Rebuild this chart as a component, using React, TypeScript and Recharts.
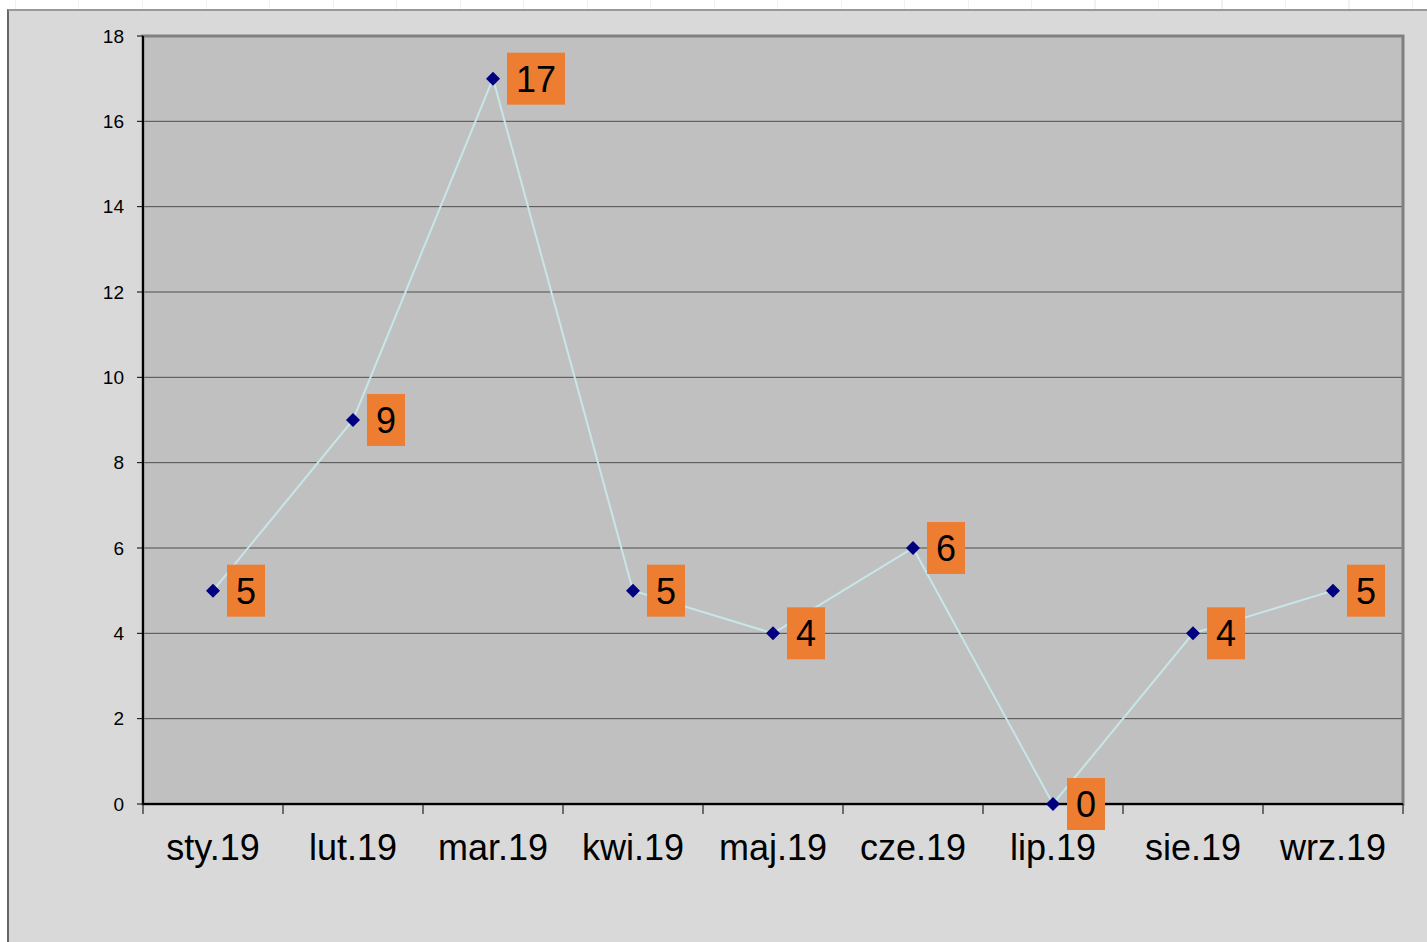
import React from 'react';
import { LineChart, Line, XAxis, YAxis, CartesianGrid, ReferenceArea, LabelList } from 'recharts';

const months = ['sty.19', 'lut.19', 'mar.19', 'kwi.19', 'maj.19', 'cze.19', 'lip.19', 'sie.19', 'wrz.19'];
const values = [5, 9, 17, 5, 4, 6, 0, 4, 5];
const yTicks = [0, 2, 4, 6, 8, 10, 12, 14, 16, 18];

const data = months.map((m, i) => ({ idx: i, month: m, value: values[i] }));

// ticks at the band centres (labels) and at band edges (tick marks)
const xTicks: number[] = [];
for (let i = 0; i <= months.length; i++) {
  xTicks.push(i - 0.5);
  if (i < months.length) xTicks.push(i);
}

const FONT = '"Liberation Sans", Arial, sans-serif';

const MonthTick = (props: any) => {
  const { x, y, payload } = props;
  const v = payload.value;
  if (Number.isInteger(v)) {
    return (
      <text x={x} y={y + 56} textAnchor="middle" fontSize={36} fontFamily={FONT} fill="#000">
        {months[v]}
      </text>
    );
  }
  return <line x1={x} x2={x} y1={y} y2={y + 10} stroke="#000" strokeWidth={1} />;
};

const Diamond = (props: any) => {
  const { cx, cy } = props;
  if (cx == null || cy == null) return null;
  return <polygon points={`${cx},${cy - 7} ${cx + 7},${cy} ${cx},${cy + 7} ${cx - 7},${cy}`} fill="#000080" />;
};

const ValueLabel = (props: any) => {
  const { x, y, value } = props;
  const txt = String(value);
  const w = txt.length * 20 + 18;
  return (
    <g>
      <rect x={x + 14} y={y - 26} width={w} height={52} fill="#ed7d31" />
      <text x={x + 14 + w / 2} y={y + 13} textAnchor="middle" fontSize={36} fontFamily={FONT} fill="#000">
        {txt}
      </text>
    </g>
  );
};

export default function App() {
  return (
    <>
      <div
        style={{
          position: 'fixed', left: 0, top: 0, width: 1427, height: 9, background: '#fff',
          backgroundImage:
            'repeating-linear-gradient(90deg, transparent 0 15px, #eef2f7 15px 16px, transparent 16px 63.5px)',
        }}
      />
      <div
        style={{
          position: 'fixed', left: 7, top: 9, width: 1420, height: 933, background: '#d9d9d9',
          borderTop: '2px solid #999', borderLeft: '2px solid #666', boxSizing: 'border-box',
        }}
      >
        <LineChart
          width={1418}
          height={931}
          data={data}
          margin={{ top: 25, right: 24, bottom: 76, left: 72 }}
        >
          <CartesianGrid horizontal vertical={false} fill="#c0c0c0" stroke="#4d4d4d" />
          <ReferenceArea y1={0} y2={18} fill="none" stroke="#808080" strokeWidth={3} />
          <XAxis
            dataKey="idx"
            type="number"
            domain={[-0.5, months.length - 0.5]}
            ticks={xTicks}
            interval={0}
            tick={<MonthTick />}
            tickLine={false}
            tickSize={0}
            tickMargin={0}
            axisLine={{ stroke: '#000', strokeWidth: 2 }}
            height={62}
          />
          <YAxis
            domain={[0, 18]}
            ticks={yTicks}
            interval={0}
            width={62}
            tickSize={6}
            tickMargin={13}
            tick={{ fontSize: 19, fontFamily: FONT, fill: '#000' }}
            tickLine={{ stroke: '#000' }}
            axisLine={{ stroke: '#000', strokeWidth: 2 }}
          />
          <Line
            type="linear"
            dataKey="value"
            stroke="#c6e6e8"
            strokeWidth={2}
            dot={<Diamond />}
            activeDot={false}
            isAnimationActive={false}
          >
            <LabelList dataKey="value" content={<ValueLabel />} />
          </Line>
        </LineChart>
      </div>
    </>
  );
}
